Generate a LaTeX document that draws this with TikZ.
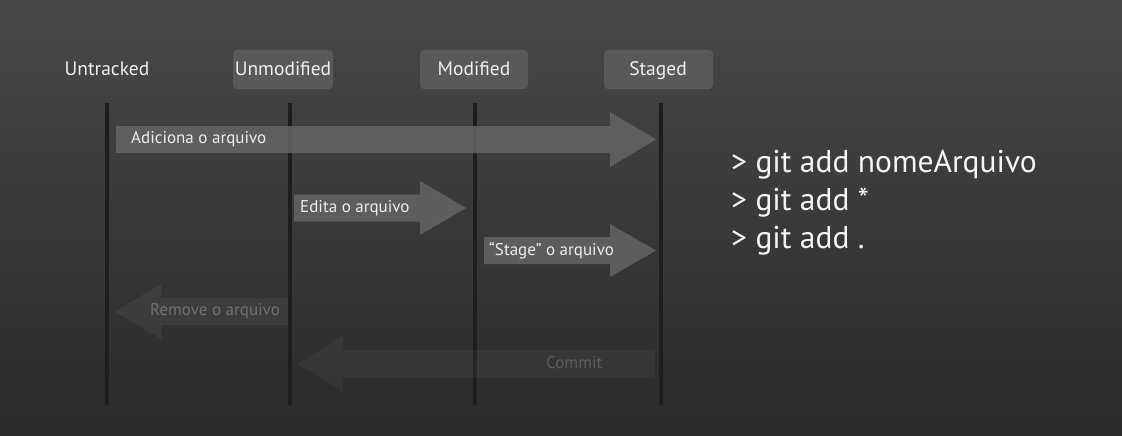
\documentclass[tikz,border=0pt]{standalone}
\usepackage{fontspec}
\setmainfont{PT Sans}
\begin{document}
\begin{tikzpicture}[x=1pt,y=-1pt,
  hdr/.style={font=\fontsize{19.5}{22}\selectfont, text=white!94!black, inner sep=0pt, anchor=base},
  hdrbox/.style={fill=hdrgray, rounded corners=4pt},
  lifeline/.style={line width=3.2pt, draw=lineblack},
  arrowtxt/.style={font=\fontsize{17}{20}\selectfont, text=white!93!black, anchor=west, inner sep=0pt},
  cmd/.style={font=\fontsize{31.5}{38}\selectfont, text=white!96!black, anchor=west, inner sep=0pt}
]
\definecolor{hdrgray}{HTML}{595959}
\definecolor{lineblack}{HTML}{1E1E1E}
\definecolor{bgtop}{HTML}{484848}
\definecolor{bgbot}{HTML}{2A2A2A}
\definecolor{arrgray}{HTML}{646464}
\useasboundingbox (0,0) rectangle (1122,436);
\shade[top color=bgtop, bottom color=bgbot] (0,0) rectangle (1122,436);

% header boxes
\fill[hdrbox] (233,50) rectangle (333,89);
\fill[hdrbox] (420,50) rectangle (528,89);
\fill[hdrbox] (604,50) rectangle (713,89);
\node[hdr] (untr) at (107,75.5) {Untracked};
\node[hdr] (unmod) at (283,75.5) {Unmodified};
\node[hdr] (mod) at (474,75.5) {Modified};
\node[hdr] (stg) at (658,75.5) {Staged};

% lifelines
\coordinate (l1t) at (107,103); \coordinate (l1b) at (107,405);
\coordinate (l2t) at (290,103); \coordinate (l2b) at (290,405);
\coordinate (l3t) at (475,103); \coordinate (l3b) at (475,405);
\coordinate (l4t) at (661,103); \coordinate (l4b) at (661,405);
\draw[lifeline] (l1t) -- (l1b);
\draw[lifeline] (l2t) -- (l2b);
\draw[lifeline] (l3t) -- (l3b);
\draw[lifeline] (l4t) -- (l4b);

% right arrows
\fill[arrgray, opacity=0.85] (116,126) -- (610,126) -- (610,112) -- (656,139.5) -- (610,167) -- (610,153) -- (116,153) -- cycle;
\node[arrowtxt] (a1) at (131,139) {Adiciona o arquivo};

\fill[arrgray, opacity=0.85] (294,194.5) -- (420,194.5) -- (420,181) -- (466,208) -- (420,235) -- (420,221.5) -- (294,221.5) -- cycle;
\node[arrowtxt] (a2) at (300,208) {Edita o arquivo};

\fill[arrgray, opacity=0.85] (484,237) -- (610,237) -- (610,224) -- (656,250.5) -- (610,277) -- (610,264) -- (484,264) -- cycle;
\node[arrowtxt] (a3) at (489,251) {``Stage'' o arquivo};

% left (faded) arrows
\fill[white, opacity=0.05] (288,298) -- (161,298) -- (161,284) -- (115,311.5) -- (161,339) -- (161,325) -- (288,325) -- cycle;
\node[arrowtxt, text=white!44!black] (a4) at (150,311) {Remove o arquivo};

\fill[white, opacity=0.035] (655,350) -- (343,350) -- (343,336) -- (297,364) -- (343,392) -- (343,378) -- (655,378) -- cycle;
\node[arrowtxt, text=white!36!black] (a5) at (546,363) {Commit};

% commands
\node[cmd] (c1) at (731,165) {> git add nomeArquivo};
\node[cmd] (c2) at (731,203) {> git add *};
\node[cmd] (c3) at (731,241) {> git add .};
\end{tikzpicture}
\end{document}
